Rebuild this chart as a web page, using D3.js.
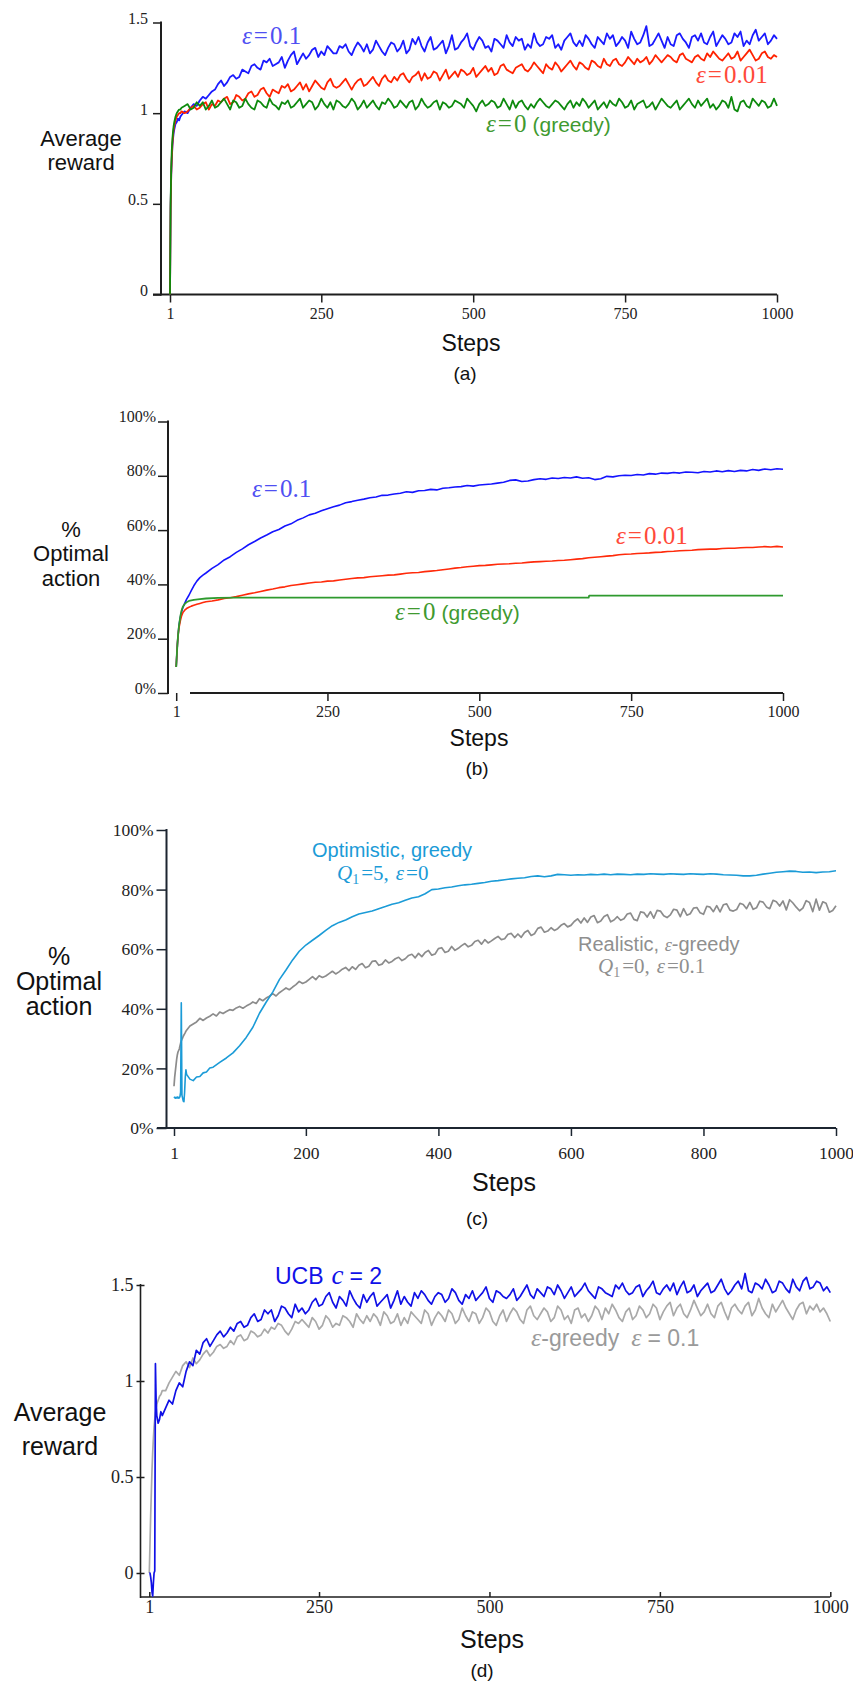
<!DOCTYPE html>
<html>
<head>
<meta charset="utf-8">
<script src="https://cdn.jsdelivr.net/npm/d3@7"></script>
<style>
  body { margin: 0; background: #fff; }
  svg { display: block; }
  .tick text { font-family: "Liberation Serif", "Times New Roman", serif; fill: #222; }
</style>
</head>
<body>
<svg id="chart" width="853" height="1684"></svg>
<script>
const SANS = '"Liberation Sans", Arial, sans-serif';
const SERIF = '"Liberation Serif", "Times New Roman", serif';

// ---------- (a) average reward, epsilon-greedy ----------
const stepsA = [1, 2, 3, 4, 5, 6, 7, 8, 10, 12, 14, 16, 18, 20].concat(d3.range(25, 1001, 5));
const rewardEps01 = [0, 0.48, 0.66, 0.75, 0.82, 0.86, 0.89, 0.91, 0.94, 0.95, 0.97, 0.96, 0.98, 0.99,
  1.01, 1.00, 1.03, 1.05, 1.04, 1.07, 1.09, 1.08, 1.10, 1.12,
  1.13, 1.16, 1.18, 1.15, 1.17, 1.20, 1.21, 1.19, 1.20, 1.24,
  1.23, 1.22, 1.26, 1.27, 1.25, 1.24, 1.29, 1.28, 1.30, 1.26,
  1.27, 1.28, 1.31, 1.25, 1.29, 1.32, 1.34, 1.27, 1.30, 1.33,
  1.30, 1.32, 1.35, 1.36, 1.31, 1.34, 1.32, 1.37, 1.35, 1.33,
  1.33, 1.37, 1.36, 1.38, 1.34, 1.32, 1.36, 1.39, 1.37, 1.34,
  1.38, 1.33, 1.35, 1.40, 1.37, 1.34, 1.32, 1.36, 1.39, 1.38,
  1.34, 1.36, 1.40, 1.33, 1.35, 1.41, 1.38, 1.42, 1.37, 1.34,
  1.39, 1.42, 1.35, 1.36, 1.38, 1.40, 1.33, 1.37, 1.43, 1.35,
  1.36, 1.39, 1.41, 1.44, 1.37, 1.35, 1.39, 1.42, 1.40, 1.36,
  1.37, 1.34, 1.41, 1.40, 1.38, 1.36, 1.43, 1.39, 1.37, 1.42,
  1.40, 1.41, 1.35, 1.38, 1.36, 1.44, 1.39, 1.37, 1.38, 1.42,
  1.41, 1.43, 1.36, 1.38, 1.35, 1.40, 1.42, 1.44, 1.39, 1.37,
  1.40, 1.37, 1.43, 1.41, 1.38, 1.36, 1.42, 1.40, 1.38, 1.44,
  1.41, 1.43, 1.37, 1.39, 1.42, 1.40, 1.36, 1.45, 1.41, 1.38,
  1.39, 1.43, 1.48, 1.37, 1.38, 1.41, 1.44, 1.40, 1.36, 1.42,
  1.38, 1.37, 1.43, 1.44, 1.41, 1.39, 1.36, 1.42, 1.43, 1.40,
  1.44, 1.39, 1.38, 1.42, 1.45, 1.37, 1.40, 1.43, 1.41, 1.38,
  1.39, 1.44, 1.42, 1.45, 1.37, 1.40, 1.38, 1.43, 1.46, 1.40,
  1.42, 1.44, 1.38, 1.40, 1.43, 1.41];
const rewardEps001 = [0, 0.47, 0.66, 0.76, 0.83, 0.88, 0.91, 0.93, 0.96, 0.98, 0.99, 1.0, 1.0, 1.01,
  1.00, 1.01, 1.03, 1.04, 1.02, 1.03, 1.05, 1.06, 1.02, 1.05,
  1.04, 1.07, 1.06, 1.08, 1.09, 1.05, 1.06, 1.10, 1.09, 1.07,
  1.08, 1.11, 1.12, 1.09, 1.10, 1.13, 1.14, 1.11, 1.09, 1.13,
  1.12, 1.11, 1.15, 1.14, 1.16, 1.12, 1.13, 1.15, 1.17, 1.13,
  1.16, 1.12, 1.15, 1.18, 1.16, 1.14, 1.13, 1.17, 1.19, 1.15,
  1.14, 1.15, 1.17, 1.19, 1.16, 1.13, 1.16, 1.18, 1.19, 1.15,
  1.16, 1.18, 1.20, 1.17, 1.15, 1.19, 1.21, 1.18, 1.17, 1.20,
  1.18, 1.21, 1.22, 1.19, 1.17, 1.20, 1.21, 1.23, 1.18, 1.22,
  1.19, 1.20, 1.23, 1.22, 1.18, 1.21, 1.24, 1.19, 1.21, 1.23,
  1.20, 1.24, 1.23, 1.21, 1.22, 1.25, 1.20, 1.22, 1.24, 1.26,
  1.23, 1.25, 1.21, 1.22, 1.26, 1.27, 1.24, 1.23, 1.22, 1.25,
  1.26, 1.27, 1.24, 1.23, 1.25, 1.28, 1.26, 1.24, 1.22, 1.27,
  1.25, 1.24, 1.28, 1.26, 1.23, 1.25, 1.27, 1.29, 1.26, 1.24,
  1.28, 1.27, 1.25, 1.24, 1.29, 1.28, 1.26, 1.25, 1.30, 1.27,
  1.26, 1.29, 1.30, 1.27, 1.26, 1.28, 1.31, 1.29, 1.27, 1.30,
  1.28, 1.29, 1.31, 1.27, 1.29, 1.32, 1.30, 1.28, 1.30, 1.32,
  1.31, 1.29, 1.28, 1.32, 1.33, 1.30, 1.29, 1.28, 1.31, 1.32,
  1.30, 1.29, 1.33, 1.31, 1.34, 1.32, 1.30, 1.29, 1.31, 1.33,
  1.30, 1.31, 1.34, 1.29, 1.31, 1.33, 1.35, 1.32, 1.29, 1.30,
  1.33, 1.34, 1.31, 1.30, 1.32, 1.31];
const rewardGreedy = [0, 0.5, 0.7, 0.8, 0.86, 0.9, 0.93, 0.95, 0.98, 1.0, 1.01, 1.02, 1.02, 1.03,
  1.04, 1.05, 1.02, 1.03, 1.06, 1.04, 1.06, 1.02, 1.04, 1.07,
  1.03, 1.04, 1.06, 1.08, 1.05, 1.02, 1.07, 1.06, 1.03, 1.04,
  1.08, 1.05, 1.03, 1.02, 1.07, 1.06, 1.04, 1.03, 1.08, 1.05,
  1.04, 1.02, 1.06, 1.05, 1.07, 1.03, 1.04, 1.06, 1.08, 1.03,
  1.05, 1.07, 1.06, 1.02, 1.04, 1.08, 1.05, 1.03, 1.06, 1.02,
  1.07, 1.06, 1.04, 1.03, 1.05, 1.08, 1.06, 1.02, 1.04, 1.07,
  1.03, 1.05, 1.07, 1.04, 1.02, 1.06, 1.05, 1.08, 1.06, 1.03,
  1.04, 1.07, 1.05, 1.03, 1.06, 1.07, 1.02, 1.04, 1.08, 1.05,
  1.03, 1.04, 1.06, 1.07, 1.02, 1.06, 1.05, 1.03, 1.04, 1.07,
  1.06, 1.05, 1.03, 1.08, 1.06, 1.04, 1.01, 1.05, 1.07, 1.04,
  1.05, 1.07, 1.06, 1.03, 1.04, 1.08, 1.05, 1.02, 1.07, 1.03,
  1.06, 1.07, 1.04, 1.02, 1.05, 1.03, 1.06, 1.08, 1.06, 1.04,
  1.03, 1.05, 1.07, 1.06, 1.04, 1.02, 1.05, 1.07, 1.03, 1.06,
  1.04, 1.08, 1.06, 1.03, 1.05, 1.07, 1.02, 1.04, 1.06, 1.03,
  1.07, 1.05, 1.04, 1.08, 1.06, 1.03, 1.04, 1.07, 1.02, 1.05,
  1.06, 1.07, 1.03, 1.04, 1.06, 1.02, 1.05, 1.08, 1.06, 1.04,
  1.03, 1.05, 1.07, 1.02, 1.04, 1.06, 1.08, 1.05, 1.03, 1.07,
  1.04, 1.06, 1.08, 1.03, 1.05, 1.02, 1.04, 1.07, 1.06, 1.03,
  1.09, 1.02, 1.01, 1.06, 1.07, 1.04, 1.03, 1.08, 1.06, 1.04,
  1.07, 1.06, 1.03, 1.04, 1.08, 1.04];

// ---------- (b) % optimal action, epsilon-greedy ----------
const stepsB = [1, 2, 3, 4, 5, 6, 8, 10, 12, 15, 18, 22, 26, 30, 35, 40, 45].concat(d3.range(50, 1001, 10));
const optimalEps01 = [9.6, 14, 18, 21, 23.5, 25.5, 28, 30, 31.5, 33, 34.5, 36, 37.8, 39.5, 41.2, 42.5, 43.4,
  44.2, 45.9, 47.3, 49.0, 50.2, 51.8, 53.1, 54.6, 55.8, 57.1,
  58.2, 59.4, 60.2, 61.5, 62.3, 63.6, 64.5, 65.6, 66.2, 67.1,
  67.9, 68.6, 69.2, 70.1, 70.5, 71.0, 71.4, 71.9, 72.2, 72.8,
  72.9, 73.3, 73.6, 74.1, 73.9, 74.5, 74.6, 75.0, 74.8, 75.4,
  75.6, 75.9, 76.0, 76.4, 76.2, 76.6, 76.8, 77.0, 77.3, 77.6,
  78.3, 78.5, 77.9, 78.1, 78.6, 78.9, 78.7, 79.2, 79.0, 79.4,
  79.2, 79.6, 79.1, 79.3, 78.6, 78.9, 79.8, 79.6, 80.0, 80.2,
  80.1, 80.5, 80.3, 80.8, 80.6, 81.0, 80.9, 81.2, 81.0, 81.4,
  81.3, 81.1, 81.6, 81.4, 81.8, 81.5, 81.9, 81.6, 82.0, 81.8,
  82.3, 82.0, 82.5, 82.2, 82.6, 82.4];
const optimalEps001 = [9.6, 14, 18, 21, 23, 24.5, 26.8, 28.5, 29.6, 30.5, 31.1, 31.6, 32.0, 32.3, 32.7, 33.0, 33.3,
  33.6, 33.9, 34.3, 34.8, 35.1, 35.5, 36.0, 36.5, 36.9, 37.4,
  37.9, 38.3, 38.8, 39.1, 39.6, 39.9, 40.2, 40.5, 40.8, 40.9,
  41.2, 41.3, 41.6, 41.9, 42.2, 42.4, 42.5, 42.8, 43.0, 43.2,
  43.4, 43.5, 43.8, 44.1, 44.3, 44.4, 44.7, 44.9, 45.1, 45.4,
  45.7, 46.0, 46.2, 46.5, 46.7, 46.9, 47.0, 47.2, 47.4, 47.5,
  47.6, 47.8, 47.9, 48.1, 48.3, 48.4, 48.5, 48.6, 48.8, 48.9,
  49.1, 49.3, 49.5, 49.8, 50.0, 50.2, 50.4, 50.6, 50.9, 51.1,
  51.2, 51.4, 51.5, 51.6, 51.8, 51.9, 52.1, 52.2, 52.4, 52.5,
  52.6, 52.8, 52.9, 53.0, 53.0, 53.2, 53.3, 53.3, 53.5, 53.6,
  53.6, 53.8, 53.9, 53.8, 54.0, 53.8];
const stepsGreedyB = [1, 2, 3, 4, 5, 6, 8, 10, 12, 15, 18, 22, 30, 40, 50, 70, 100, 150, 680, 681, 1000];
const optimalGreedy = [9.6, 14, 18, 21, 23.5, 25.5, 28.5, 30.5, 31.8, 32.8, 33.4, 33.9, 34.3, 34.6, 34.8, 35.0, 35.1, 35.1, 35.1, 35.9, 35.9];

// ---------- (c) optimistic vs realistic initial values ----------
const stepsOpt = d3.range(1, 21).concat(d3.range(25, 61, 5), d3.range(70, 1001, 10));
const optimisticGreedy = [10.5, 10.2, 10.0, 10.3, 10.1, 10.4, 10.0, 10.3, 10.1, 10.5, 12.0, 42.0, 11.0, 10.0, 9.0, 8.8, 12.0, 17.0, 19.5, 18.0,
  16.4, 15.9, 17.1, 17.3, 18.5, 18.8, 20.1, 20.4,
  22.0, 23.5, 25.2, 27.6, 30.4, 33.8, 38.5, 42.2, 45.6, 49.8,
  53.0, 56.4, 59.3, 61.4, 63.0, 64.6, 66.3, 67.9, 69.0, 69.8,
  70.9, 71.8, 72.3, 72.8, 73.6, 74.3, 75.1, 75.6, 76.4, 77.2,
  77.6, 78.6, 80.0, 80.2, 80.6, 80.9, 81.3, 81.6, 81.8, 82.1,
  82.4, 82.8, 83.0, 83.3, 83.6, 83.8, 84.0, 84.4, 84.6, 84.3,
  84.6, 85.1, 85.0, 84.8, 85.0, 84.9, 85.1, 85.0, 85.2, 85.0,
  85.2, 85.1, 85.0, 85.2, 85.1, 85.3, 85.2, 85.1, 85.3, 85.2,
  85.1, 85.3, 85.2, 85.1, 85.3, 85.2, 85.0, 84.9, 84.8, 84.6,
  84.6, 84.8, 85.2, 85.5, 85.8, 86.0, 86.2, 86.1, 85.8, 85.9,
  85.7, 85.9, 86.0, 86.3];
const stepsReal = d3.range(1, 21).concat(d3.range(25, 1001, 5));
const realisticEps = [14, 17, 19, 21, 23, 24.5, 25.5, 26, 26.5, 27.5, 28.5, 29.2, 29.8, 30.2, 30.8, 31.2, 31.6, 32.0, 32.5, 32.8,
  34.2, 34.9, 35.6, 36.8, 36.1, 36.9, 37.5, 38.3, 37.6, 38.9,
  38.4, 39.1, 39.7, 39.5, 40.3, 40.8, 40.2, 40.9, 41.5, 42.3,
  41.8, 43.4, 42.7, 43.6, 44.2, 45.1, 44.3, 45.4, 46.2, 47.0,
  46.4, 47.3, 48.1, 49.2, 48.5, 49.0, 49.9, 50.8, 49.8, 51.1,
  50.5, 51.0, 51.8, 52.6, 51.7, 52.4, 53.3, 53.9, 52.8, 54.1,
  53.2, 54.6, 55.2, 53.8, 54.3, 55.9, 56.1, 54.6, 55.0, 56.4,
  55.4, 55.9, 56.8, 57.3, 56.2, 56.8, 57.9, 58.3, 57.1, 58.6,
  57.5, 58.9, 59.6, 58.0, 58.4, 60.2, 60.5, 58.9, 59.3, 60.9,
  59.6, 60.3, 61.2, 61.9, 60.8, 61.3, 62.6, 63.0, 61.7, 63.2,
  62.1, 62.8, 63.6, 64.3, 63.2, 63.5, 65.0, 65.3, 63.9, 65.1,
  64.0, 65.6, 66.3, 64.6, 65.2, 67.0, 67.4, 65.7, 66.1, 67.2,
  66.3, 66.9, 68.0, 68.6, 67.5, 68.0, 69.3, 70.2, 68.8, 70.5,
  69.0, 70.8, 71.3, 68.9, 69.5, 71.0, 71.6, 69.2, 69.8, 70.9,
  69.7, 70.2, 71.8, 72.1, 70.0, 69.6, 72.5, 72.3, 70.8, 72.6,
  70.4, 73.0, 72.8, 71.2, 70.6, 71.5, 73.4, 73.1, 70.9, 73.6,
  71.4, 71.9, 73.8, 74.0, 72.2, 71.7, 74.4, 74.1, 72.6, 74.6,
  72.5, 74.9, 75.2, 73.1, 72.8, 73.3, 75.4, 75.0, 73.6, 75.7,
  73.4, 73.9, 76.1, 75.8, 74.2, 73.6, 76.4, 75.9, 74.5, 76.2,
  73.2, 76.6, 75.5, 74.1, 72.9, 73.8, 76.3, 75.7, 72.6, 76.8,
  73.1, 75.9, 75.4, 72.4, 73.0, 74.6];

// ---------- (d) UCB vs epsilon-greedy ----------
const stepsD = [1, 2, 3, 4, 5, 6, 7, 8, 9, 10, 11, 12, 14, 16, 18, 20].concat(d3.range(25, 1001, 5));
const rewardUCB = [0, 0.0, -0.02, -0.05, -0.1, -0.12, -0.05, 0.0, 0.01, 1.09, 0.9, 0.82, 0.78, 0.8, 0.84, 0.82,
  0.86, 0.90, 0.88, 0.95, 0.99, 0.97, 1.05, 1.10, 1.08, 1.16,
  1.14, 1.20, 1.22, 1.18, 1.21, 1.24, 1.26, 1.23, 1.25, 1.28,
  1.26, 1.30, 1.31, 1.28, 1.29, 1.33, 1.35, 1.31, 1.32, 1.37,
  1.35, 1.37, 1.31, 1.34, 1.39, 1.38, 1.35, 1.33, 1.40, 1.36,
  1.38, 1.35, 1.37, 1.41, 1.43, 1.39, 1.40, 1.44, 1.46, 1.41,
  1.38, 1.44, 1.42, 1.39, 1.47, 1.43, 1.40, 1.38, 1.45, 1.41,
  1.44, 1.46, 1.39, 1.41, 1.43, 1.45, 1.38, 1.42, 1.47, 1.40,
  1.44, 1.41, 1.39, 1.46, 1.43, 1.47, 1.45, 1.42, 1.40, 1.44,
  1.46, 1.45, 1.41, 1.43, 1.48, 1.46, 1.42, 1.40, 1.45, 1.43,
  1.47, 1.42, 1.44, 1.46, 1.49, 1.43, 1.41, 1.47, 1.46, 1.44,
  1.43, 1.45, 1.48, 1.42, 1.44, 1.47, 1.50, 1.45, 1.43, 1.48,
  1.46, 1.44, 1.49, 1.48, 1.45, 1.50, 1.47, 1.43, 1.46, 1.49,
  1.44, 1.46, 1.48, 1.51, 1.47, 1.45, 1.43, 1.49, 1.48, 1.46,
  1.45, 1.44, 1.50, 1.48, 1.51, 1.47, 1.45, 1.46, 1.49, 1.50,
  1.44, 1.47, 1.49, 1.52, 1.46, 1.45, 1.48, 1.50, 1.47, 1.51,
  1.45, 1.49, 1.52, 1.46, 1.47, 1.50, 1.44, 1.47, 1.49, 1.51,
  1.46, 1.47, 1.50, 1.53, 1.48, 1.45, 1.47, 1.50, 1.52, 1.48,
  1.56, 1.47, 1.46, 1.51, 1.50, 1.48, 1.53, 1.50, 1.46, 1.47,
  1.52, 1.51, 1.48, 1.46, 1.53, 1.49, 1.47, 1.52, 1.54, 1.48,
  1.49, 1.52, 1.51, 1.47, 1.49, 1.46];
const rewardEpsD = [0, 0.15, 0.3, 0.42, 0.54, 0.63, 0.7, 0.76, 0.8, 0.83, 0.86, 0.88, 0.9, 0.92, 0.93, 0.95,
  0.95, 0.99, 1.02, 1.05, 1.03, 1.08, 1.10, 1.07, 1.12, 1.09,
  1.11, 1.14, 1.16, 1.13, 1.15, 1.18, 1.19, 1.17, 1.18, 1.21,
  1.19, 1.23, 1.24, 1.21, 1.22, 1.26, 1.25, 1.23, 1.24, 1.27,
  1.25, 1.28, 1.27, 1.30, 1.29, 1.26, 1.24, 1.27, 1.31, 1.30,
  1.32, 1.30, 1.28, 1.33, 1.31, 1.27, 1.29, 1.34, 1.32, 1.28,
  1.30, 1.29, 1.34, 1.33, 1.31, 1.28, 1.35, 1.32, 1.30, 1.34,
  1.31, 1.35, 1.33, 1.29, 1.36, 1.34, 1.30, 1.31, 1.35, 1.29,
  1.33, 1.30, 1.36, 1.34, 1.32, 1.30, 1.37, 1.35, 1.29, 1.33,
  1.36, 1.34, 1.31, 1.37, 1.35, 1.30, 1.32, 1.38, 1.34, 1.31,
  1.36, 1.35, 1.30, 1.33, 1.38, 1.36, 1.31, 1.29, 1.34, 1.37,
  1.31, 1.35, 1.38, 1.36, 1.32, 1.30, 1.37, 1.39, 1.34, 1.32,
  1.35, 1.38, 1.36, 1.31, 1.33, 1.39, 1.37, 1.32, 1.34, 1.30,
  1.37, 1.38, 1.33, 1.35, 1.31, 1.34, 1.39, 1.37, 1.32, 1.38,
  1.35, 1.40, 1.37, 1.33, 1.31, 1.36, 1.38, 1.32, 1.34, 1.39,
  1.37, 1.33, 1.35, 1.40, 1.38, 1.32, 1.36, 1.39, 1.41, 1.34,
  1.38, 1.40, 1.35, 1.33, 1.37, 1.42, 1.38, 1.34, 1.36, 1.40,
  1.35, 1.33, 1.39, 1.41, 1.36, 1.32, 1.38, 1.40, 1.37, 1.35,
  1.39, 1.41, 1.34, 1.37, 1.43, 1.38, 1.35, 1.33, 1.40, 1.36,
  1.39, 1.42, 1.38, 1.35, 1.32, 1.37, 1.40, 1.41, 1.35, 1.39,
  1.37, 1.40, 1.36, 1.38, 1.35, 1.31];

const stepTicks = [1, 250, 500, 750, 1000];
const stepTicksC = [1, 200, 400, 600, 800, 1000];
const rewardTicks = [0, 0.5, 1, 1.5];
const percentTicks = [0, 20, 40, 60, 80, 100];

const svg = d3.select("#chart");

const fmtReward = (d) => (d === 0 ? "0" : d === 1 ? "1" : d3.format(".1f")(d));
const fmtPct = (d) => d + "%";

// axes for one panel
const drawAxes = (p) => {
  const g = svg.append("g");
  const color = p.axisColor || "#1e1e1e";

  // x axis line and y axis line
  g.append("line")
    .attr("x1", p.xLine[0]).attr("x2", p.xLine[1])
    .attr("y1", p.baseY).attr("y2", p.baseY)
    .attr("stroke", color).attr("stroke-width", p.axisW || 2);
  g.append("line")
    .attr("x1", p.axisX).attr("x2", p.axisX)
    .attr("y1", p.y(p.yTicks[p.yTicks.length - 1]) - 1).attr("y2", p.baseY + 1)
    .attr("stroke", color).attr("stroke-width", p.axisW || 2);

  const xa = g.append("g")
    .attr("transform", `translate(0,${p.baseY})`)
    .call(d3.axisBottom(p.x).tickValues(p.xTicks).tickSize(p.xTickLen)
      .tickPadding(p.xPad).tickFormat(d3.format("d")));
  xa.select(".domain").remove();
  xa.selectAll(".tick line").attr("stroke", color).attr("stroke-width", 1.5);
  xa.selectAll(".tick text").style("font-size", p.tickFont + "px");
  if (p.xTickLen < 0) xa.selectAll(".tick text").attr("y", p.xPad);

  const ya = g.append("g")
    .attr("transform", `translate(${p.axisX},0)`)
    .call(d3.axisLeft(p.y).tickValues(p.yTicks).tickSize(p.yTickLen)
      .tickPadding(p.yPad).tickFormat(p.yFmt));
  ya.select(".domain").remove();
  ya.selectAll(".tick line").attr("stroke", color).attr("stroke-width", 1.5);
  if (p.yCross) ya.selectAll(".tick line").attr("x1", p.yCross);
  ya.selectAll(".tick text")
    .style("font-size", p.tickFont + "px")
    .attr("y", p.yLabelShift || 0);
};

const drawSeries = (p, steps, values, color, width) => {
  const pts = steps.map((s, i) => ({ s, v: values[i] })).filter((d) => d.v !== undefined);
  svg.append("path")
    .datum(pts)
    .attr("fill", "none")
    .attr("stroke", color)
    .attr("stroke-width", width)
    .attr("stroke-linejoin", "round")
    .attr("d", d3.line().x((d) => p.x(d.s)).y((d) => p.y(d.v)));
};

// text built from parts: {t, it, sans, size, dx, dy}
const addText = (x, y, size, color, parts, anchor) => {
  const t = svg.append("text")
    .attr("x", x).attr("y", y)
    .attr("fill", color)
    .attr("text-anchor", anchor || "start")
    .style("font-size", size + "px");
  parts.forEach((q) => {
    const ts = t.append("tspan").text(q.t)
      .style("font-family", q.sans ? SANS : SERIF)
      .style("font-style", q.it ? "italic" : "normal");
    if (q.size) ts.style("font-size", q.size + "px");
    if (q.dx) ts.attr("dx", q.dx);
    if (q.dy) ts.attr("dy", q.dy);
  });
};

const axisTitle = (x, ys, size, lines) => {
  lines.forEach((l, i) => {
    svg.append("text")
      .attr("x", x).attr("y", ys[i])
      .attr("text-anchor", "middle")
      .attr("fill", "#111")
      .style("font-family", SANS)
      .style("font-size", size + "px")
      .text(l);
  });
};

// ===== panel (a) =====
const pA = {
  x: d3.scaleLinear().domain([1, 1000]).range([170, 777]),
  y: d3.scaleLinear().domain([0, 1.5]).range([294.5, 22.5]),
  axisX: 161, baseY: 294.5, xLine: [153, 777],
  xTicks: stepTicks, yTicks: rewardTicks, yFmt: fmtReward,
  xTickLen: 8, xPad: 5, yTickLen: 8, yPad: 5, yLabelShift: -4, tickFont: 16,
};
drawAxes(pA);
drawSeries(pA, stepsA, rewardEps01, "#1a1aff", 1.8);
drawSeries(pA, stepsA, rewardEps001, "#ff2200", 1.8);
drawSeries(pA, stepsA, rewardGreedy, "#0d8a0d", 1.8);
addText(242, 44, 25, "#4f4ff2", [{ t: "ε", it: true }, { t: "=", dx: 2 }, { t: "0.1", dx: 2 }]);
addText(696, 83, 25, "#ff4a3a", [{ t: "ε", it: true }, { t: "=", dx: 2 }, { t: "0.01", dx: 2 }]);
addText(486, 132, 25, "#3f9a30", [{ t: "ε", it: true }, { t: "=", dx: 2 }, { t: "0", dx: 2 },
  { t: "(greedy)", sans: true, size: 21, dx: 6 }]);
axisTitle(81, [146, 170], 22, ["Average", "reward"]);
axisTitle(471, [351], 23, ["Steps"]);
axisTitle(465, [380], 19, ["(a)"]);

// ===== panel (b) =====
const pB = {
  x: d3.scaleLinear().domain([1, 1000]).range([176.2, 783]),
  y: d3.scaleLinear().domain([0, 100]).range([693, 421.5]),
  axisX: 168, baseY: 693, xLine: [190, 783],
  xTicks: stepTicks, yTicks: percentTicks, yFmt: fmtPct,
  xTickLen: 8, xPad: 5, yTickLen: 10, yPad: 2, yLabelShift: -5, tickFont: 16,
};
drawAxes(pB);
drawSeries(pB, stepsB, optimalEps01, "#1414ff", 1.6);
drawSeries(pB, stepsB, optimalEps001, "#ff2a0a", 1.6);
drawSeries(pB, stepsGreedyB, optimalGreedy, "#2e9a2e", 1.8);
addText(252, 497, 25, "#4f4ff2", [{ t: "ε", it: true }, { t: "=", dx: 2 }, { t: "0.1", dx: 2 }]);
addText(616, 544, 25, "#ff4a3a", [{ t: "ε", it: true }, { t: "=", dx: 2 }, { t: "0.01", dx: 2 }]);
addText(395, 620, 25, "#3f9a30", [{ t: "ε", it: true }, { t: "=", dx: 2 }, { t: "0", dx: 2 },
  { t: "(greedy)", sans: true, size: 21, dx: 6 }]);
axisTitle(71, [537, 561, 586], 22, ["%", "Optimal", "action"]);
axisTitle(479, [746], 23, ["Steps"]);
axisTitle(477, [775], 19, ["(b)"]);

// ===== panel (c) =====
const pC = {
  x: d3.scaleLinear().domain([1, 1000]).range([174, 836]),
  y: d3.scaleLinear().domain([0, 100]).range([1128, 830]),
  axisX: 166.5, baseY: 1128, xLine: [157, 836], axisColor: "#1c2530",
  xTicks: stepTicksC, yTicks: percentTicks, yFmt: fmtPct,
  xTickLen: 8, xPad: 11, yTickLen: 10, yPad: 3, tickFont: 17.5,
};
drawAxes(pC);
drawSeries(pC, stepsReal, realisticEps, "#8c8c8c", 1.7);
drawSeries(pC, stepsOpt, optimisticGreedy, "#1b9bd7", 1.6);
addText(312, 857, 20, "#1b9bd7", [{ t: "Optimistic, greedy", sans: true }]);
addText(337, 880, 21, "#1b9bd7", [{ t: "Q", it: true }, { t: "1", size: 14, dy: 4 }, { t: "=5,", dy: -4, dx: 2 },
  { t: "ε", it: true, dx: 7 }, { t: "=0", dx: 2 }]);
addText(578, 951, 20, "#8f8f8f", [{ t: "Realistic, ", sans: true }, { t: "ε", it: true, size: 18 },
  { t: "-greedy", sans: true }]);
addText(598, 973, 21, "#8f8f8f", [{ t: "Q", it: true }, { t: "1", size: 14, dy: 4 }, { t: "=0,", dy: -4, dx: 2 },
  { t: "ε", it: true, dx: 7 }, { t: "=0.1", dx: 2 }]);
axisTitle(59, [965, 990, 1015], 25, ["%", "Optimal", "action"]);
axisTitle(504, [1191], 25, ["Steps"]);
axisTitle(477, [1225], 19, ["(c)"]);

// ===== panel (d) =====
const pD = {
  x: d3.scaleLinear().domain([1, 1000]).range([149.3, 830.3]),
  y: d3.scaleLinear().domain([0, 1.5]).range([1573, 1285]),
  axisX: 140.5, baseY: 1597, xLine: [140.5, 830.3], axisW: 1.6,
  xTicks: stepTicks, yTicks: rewardTicks, yFmt: fmtReward,
  xTickLen: -5, xPad: 3, yTickLen: 4, yPad: 3, yCross: 4, tickFont: 18,
};
drawAxes(pD);
drawSeries(pD, stepsD, rewardEpsD, "#a9a9a9", 1.7);
drawSeries(pD, stepsD, rewardUCB, "#1010e6", 1.7);
addText(275, 1284, 23, "#1010e8", [{ t: "UCB", sans: true }, { t: "c", it: true, size: 27, dx: 8 },
  { t: "= 2", sans: true, dx: 6 }]);
addText(531, 1346, 23, "#9a9a9a", [{ t: "ε", it: true, size: 26 }, { t: "-greedy", sans: true },
  { t: "ε", it: true, size: 26, dx: 12 }, { t: "= 0.1", sans: true, dx: 6 }]);
axisTitle(60, [1421, 1455], 25, ["Average", "reward"]);
axisTitle(492, [1648], 25, ["Steps"]);
axisTitle(482, [1677], 19, ["(d)"]);
</script>
</body>
</html>
